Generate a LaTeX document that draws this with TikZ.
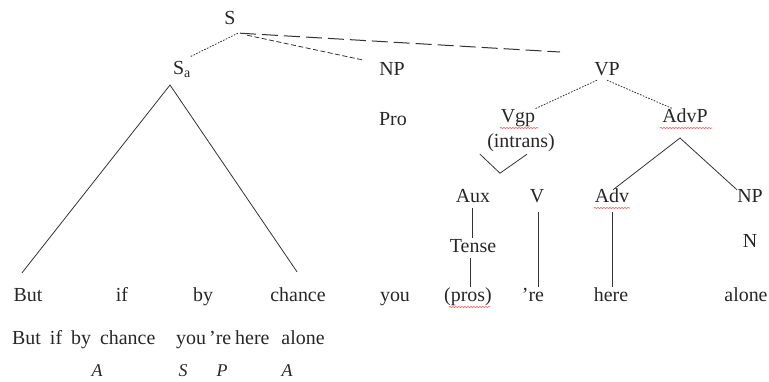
\documentclass[tikz,border=0pt]{standalone}
\usepackage{fontspec}
\setmainfont{Liberation Serif}
\usetikzlibrary{decorations.pathmorphing,calc}
\begin{document}
\begin{tikzpicture}[x=1bp,y=-1bp,
  lbl/.style={font=\fontsize{20}{22}\selectfont, text=black!85, inner sep=1.5bp, text height=13bp, text depth=4bp},
  edge/.style={draw=black!80, line width=0.8bp},
  dotln/.style={edge, dash pattern=on 1.6bp off 1.4bp},
  shortdash/.style={edge, dash pattern=on 5bp off 2.5bp},
  longdash/.style={edge, line width=1bp, dash pattern=on 16bp off 6bp},
  func/.style={lbl, font=\fontsize{18}{20}\selectfont\itshape},
  squiggle/.style={draw=red!65, line width=0.6bp, decorate, decoration={snake, amplitude=0.6bp, segment length=3bp}}]
\useasboundingbox (0,0) rectangle (769,381);
% upper labels
\node[lbl] (S) at (230,20) {S};
\node[lbl] (Sa) at (182,70) {S\textsubscript{a}};
\node[lbl] (NP1) at (392,71) {NP};
\node[lbl] (VP) at (607,71) {VP};
\node[lbl] (Pro) at (393,121) {Pro};
\node[lbl] (Vgp) at (518,118) {Vgp};
\node[lbl] (intrans) at (521,143) {(intrans)};
\node[lbl] (AdvP) at (685,118) {AdvP};
\node[lbl] (Aux) at (473,198) {Aux};
\node[lbl] (V) at (537,198) {V};
\node[lbl] (Adv) at (612,198) {Adv};
\node[lbl] (NP2) at (750,198) {NP};
\node[lbl] (Tense) at (473,248) {Tense};
\node[lbl] (N) at (750,243) {N};
% words
\node[lbl] (w1) at (28,297) {But};
\node[lbl] (w2) at (122,297) {if};
\node[lbl] (w3) at (203,297) {by};
\node[lbl] (w4) at (298,297) {chance};
\node[lbl] (w5) at (395,297) {you};
\node[lbl] (w6) at (468,297) {(pros)};
\node[lbl] (w7) at (533,297) {’re};
\node[lbl] (w8) at (611,297) {here};
\node[lbl] (w9) at (746,297) {alone};
% sentence line
\node[lbl, anchor=west, inner sep=0pt] (l1) at (12,340) {But\hspace{9bp}if\hspace{9bp}by\hspace{9bp}chance};
\node[lbl, anchor=west, inner sep=0pt] (l2) at (176,340) {you};
\node[lbl, anchor=west, inner sep=0pt] (l3) at (209,340) {’re};
\node[lbl, anchor=west, inner sep=0pt] (l4) at (235,340) {here\hspace{12bp}alone};
\node[func] (fA1) at (97,372) {A};
\node[func] (fS) at (183,372) {S};
\node[func] (fP) at (222,372) {P};
\node[func] (fA2) at (287,372) {A};
% connectors
\coordinate (farend) at (560,52);
\draw[dotln] ([xshift=8bp,yshift=-3bp]S.south) -- ([xshift=8bp,yshift=3bp]Sa.north);
\draw[shortdash] ([xshift=17bp,yshift=-5bp]S.south) -- ([xshift=-30bp,yshift=1bp]NP1.north);
\draw[longdash] ([xshift=10bp,yshift=-3bp]S.south) -- (farend);
\coordinate (apex) at (170,85);
\draw[edge] ($(w1.north)+(-6,-14)$) -- (apex) -- ($(w4.north)+(-1,-15)$);
\draw[dotln] ([xshift=-10bp,yshift=1bp]VP.south) -- ([xshift=17bp,yshift=-1bp]Vgp.north);
\draw[dotln] ([xshift=0bp,yshift=1bp]VP.south) -- ([xshift=-12bp,yshift=-1bp]AdvP.north);
\draw[edge] ([xshift=-41bp,yshift=-1bp]intrans.south) -- ([xshift=-21bp,yshift=-20bp]intrans.south) -- ([xshift=6bp,yshift=-1bp]intrans.south);
\coordinate (advpfoot) at (680,138);
\draw[edge] ([xshift=1bp,yshift=-2bp]Adv.north) -- (advpfoot) -- ([xshift=-13bp,yshift=-2bp]NP2.north);
\draw[edge] ([xshift=-1bp]Aux.south) -- ([xshift=-1bp]Tense.north);
\coordinate (tb) at ([xshift=-3bp]Tense.south);
\draw[edge] (tb) -- (tb |- w6.north);
\coordinate (vb) at ([xshift=1bp,yshift=-4bp]V.south);
\draw[edge] (vb) -- (vb |- w7.north);
\coordinate (ab) at ([yshift=-4bp]Adv.south);
\draw[edge] (ab) -- (ab |- w8.north);
% spell-check underlines
\draw[squiggle] (500,128) -- (538,128);
\draw[squiggle] (660,128) -- (712,128);
\draw[squiggle] (594,208) -- (630,208);
\draw[squiggle] (449,307) -- (490,307);
\end{tikzpicture}
\end{document}
